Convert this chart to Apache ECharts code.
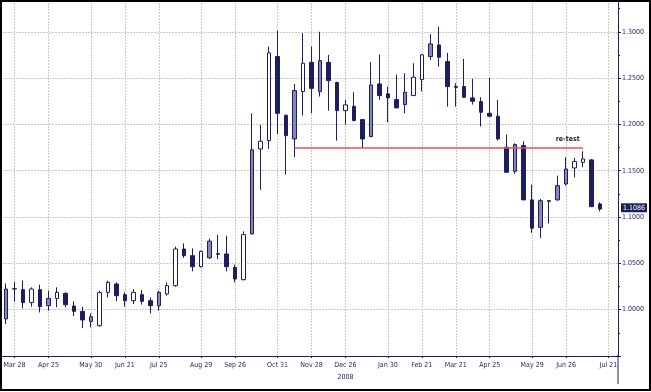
<!DOCTYPE html>
<html><head><meta charset="utf-8">
<script src="https://cdn.jsdelivr.net/npm/echarts@6/dist/echarts.min.js"></script>
<style>html,body{margin:0;padding:0;background:#fff}#c{width:651px;height:392px}</style>
</head><body><div id="c"></div>
<script>
// ---- data ----
const openP  = [0.9900,1.0226,1.0216,1.0076,1.0216,1.0043,1.0122,1.0176,1.0040,0.9982,
                0.9874,0.9827,1.0187,1.0277,1.0162,1.0097,1.0162,1.0097,1.0043,1.0170,
                1.0259,1.0655,1.0583,1.0464,1.0560,1.0605,1.0601,1.0457,1.0324,1.0818,
                1.1735,1.1825,1.2732,1.2098,1.1843,1.2354,1.2670,1.2354,1.2670,1.2452,
                1.2149,1.2196,1.2052,1.1868,1.2437,1.2330,1.2268,1.2214,1.2311,1.2484,
                1.2732,1.2858,1.2678,1.2408,1.2408,1.2286,1.2246,1.2120,1.2088,1.1753,
                1.1494,1.1771,1.1185,1.0889,1.1177,1.1185,1.1357,1.1530,1.1590,1.1617,
                1.1141];
const closeP = [1.0223,1.0223,1.0076,1.0223,1.0032,1.0122,1.0187,1.0054,0.9982,0.9889,
                0.9924,1.0184,1.0295,1.0151,1.0097,1.0187,1.0090,1.0043,1.0187,1.0259,
                1.0655,1.0583,1.0464,1.0630,1.0740,1.0598,1.0464,1.0331,1.0810,1.1725,
                1.1818,1.2772,1.2120,1.1879,1.2365,1.2660,1.2389,1.2689,1.2473,1.2149,
                1.2211,1.2041,1.1843,1.2426,1.2311,1.2286,1.2178,1.2347,1.2509,1.2751,
                1.2869,1.2725,1.2408,1.2400,1.2293,1.2250,1.2131,1.2088,1.1843,1.1483,
                1.1782,1.1185,1.0880,1.1177,1.1170,1.1339,1.1519,1.1598,1.1627,1.1112,
                1.1086];
const lowP   = [0.9845,1.0086,1.0014,1.0032,0.9970,0.9989,1.0025,1.0025,0.9932,0.9802,
                0.9809,0.9816,1.0133,1.0090,1.0032,1.0061,1.0054,0.9960,0.9989,1.0151,
                1.0248,1.0558,1.0414,1.0457,1.0547,1.0547,1.0414,1.0295,1.0316,1.0810,
                1.1293,1.1735,1.1897,1.1458,1.1645,1.2095,1.2120,1.2300,1.2149,1.1825,
                1.1998,1.2034,1.1746,1.1861,1.2265,1.2023,1.2178,1.2120,1.2311,1.2358,
                1.2696,1.2624,1.2192,1.2192,1.2286,1.2214,1.1976,1.2084,1.1825,1.1483,
                1.1465,1.1185,1.0830,1.0774,1.0932,1.1177,1.1339,1.1429,1.1537,1.1112,
                1.1061];
const highP  = [1.0284,1.0302,1.0313,1.0241,1.0270,1.0205,1.0241,1.0187,1.0090,1.0032,
                0.9960,1.0205,1.0313,1.0295,1.0187,1.0223,1.0212,1.0133,1.0205,1.0295,
                1.0680,1.0716,1.0662,1.0637,1.0766,1.0810,1.0799,1.0486,1.0846,1.2120,
                1.1995,1.2840,1.3013,1.2106,1.2437,1.2984,1.2840,1.3000,1.2751,1.2462,
                1.2265,1.2347,1.2055,1.2671,1.2754,1.2408,1.2538,1.2552,1.2660,1.2761,
                1.2974,1.3056,1.2772,1.2444,1.2707,1.2491,1.2293,1.2502,1.2265,1.1890,
                1.1796,1.1818,1.1350,1.1195,1.1185,1.1447,1.1645,1.1638,1.1710,1.1627,
                1.1159];
const shadedBodyIdx = [0,5,10,18,24,29,34,37,43,47,50,60,63,65,66];
const tickIdx  = [1,5,10,14,18,23,27,32,36,40,45,49,53,57,62,66,71];
const tickText = ['Mar 28','Apr 25','May 30','Jun 21','Jul 25','Aug 29','Sep 26','Oct 31','Nov 28',
                  'Dec 26','Jan 30','Feb 21','Mar 21','Apr 25','May 29','Jun 26','Jul 21'];
const yearIdx = 40, yearText = '2008';
const supportLevel = 1.1745, supportFrom = 34, supportTo = 68;
const noteText = 're-test', noteAt = [66.2, 1.1837];
const lastPrice = 1.1086;

// ---- chart ----
const NAVY = '#1c1f5e';
const FONT = "'Liberation Sans Narrow','Arial Narrow','DejaVu Sans Condensed',sans-serif";
const GRIDC = '#cacaca';

const candles = openP.map((o, i) => {
  const item = { value: [i, o, closeP[i], lowP[i], highP[i]] };
  if (shadedBodyIdx.indexOf(i) >= 0) item.itemStyle = { color: '#8588b6', color0: '#8588b6' };
  return item;
});
const labelOf = {};
tickIdx.forEach((t, k) => { labelOf[t] = tickText[k] + (t === yearIdx ? '\n' + yearText : ''); });

const chart = echarts.init(document.getElementById('c'), null, { renderer: 'canvas' });
chart.setOption({
  animation: false,
  backgroundColor: '#ffffff',
  grid: { left: 1, right: 33, top: 1, bottom: 36 },
  xAxis: {
    type: 'value', min: -0.59, max: 72.12,
    axisLine: { show: true, onZero: false, lineStyle: { color: NAVY, width: 1 } },
    axisTick: { show: true, customValues: tickIdx, length: 2, lineStyle: { color: NAVY } },
    axisLabel: {
      show: true, customValues: tickIdx, margin: 3,
      formatter: v => labelOf[Math.round(v)] || '',
      color: '#25285c', fontSize: 7, fontFamily: FONT, lineHeight: 12
    },
    splitLine: { show: false }
  },
  yAxis: {
    type: 'value', position: 'right', min: 0.95, max: 1.3332, interval: 0.05,
    axisLine: { show: true, onZero: false, lineStyle: { color: NAVY, width: 1 } },
    axisTick: { show: true, length: 3, lineStyle: { color: NAVY } },
    minorTick: { show: true, splitNumber: 2, length: 2, lineStyle: { color: NAVY } },
    axisLabel: {
      show: true, margin: 4, color: '#25285c', fontSize: 7, fontFamily: FONT,
      showMaxLabel: false, showMinLabel: false,
      formatter: v => v.toFixed(4)
    },
    splitLine: { show: true, lineStyle: { color: GRIDC, type: [2, 1], width: 1 } }
  },
  series: [
    {
      type: 'line', data: [], z: 0, silent: true,
      markLine: {
        silent: true, symbol: 'none', animation: false, z: 0,
        label: { show: false },
        lineStyle: { color: GRIDC, type: [2, 1], width: 1 },
        data: tickIdx.map(t => ({ xAxis: t }))
      }
    },
    {
      type: 'candlestick', z: 3,
      encode: { x: 0, y: [1, 2, 3, 4] },
      barWidth: 4,
      itemStyle: { color: '#ffffff', color0: NAVY, borderColor: NAVY, borderColor0: NAVY, borderWidth: 1 },
      data: candles,
      markLine: {
        silent: true, symbol: 'none', animation: false, z: 6,
        data: [
          [
            { coord: [supportFrom, supportLevel], lineStyle: { color: '#ea4f52', width: 1.5, type: 'solid' }, label: { show: false } },
            { coord: [supportTo, supportLevel] }
          ],
          {
            yAxis: lastPrice,
            lineStyle: { width: 1, color: 'rgba(0,0,0,0)', type: 'solid' },
            label: {
              show: true, position: 'end', distance: 3, formatter: lastPrice.toFixed(4),
              color: '#ffffff', backgroundColor: NAVY, padding: [1, 2, 1, 2],
              fontSize: 7, fontFamily: FONT
            }
          }
        ]
      },
      markPoint: {
        silent: true, animation: false,
        symbol: 'circle', symbolSize: 0,
        data: [{ coord: noteAt, label: { show: true, position: 'inside', formatter: noteText,
          color: '#1a1a2e', fontSize: 7, fontWeight: 'bold', fontFamily: FONT } }]
      }
    }
  ],
  graphic: [
    { type: 'line', z: 100, shape: { x1: 618, y1: 355, x2: 618, y2: 384 }, style: { stroke: NAVY, lineWidth: 1 } },
    { type: 'rect', z: 100, shape: { x: 1, y: 1, width: 649, height: 389 }, style: { fill: null, stroke: '#000', lineWidth: 2 } }
  ]
});
</script></body></html>
